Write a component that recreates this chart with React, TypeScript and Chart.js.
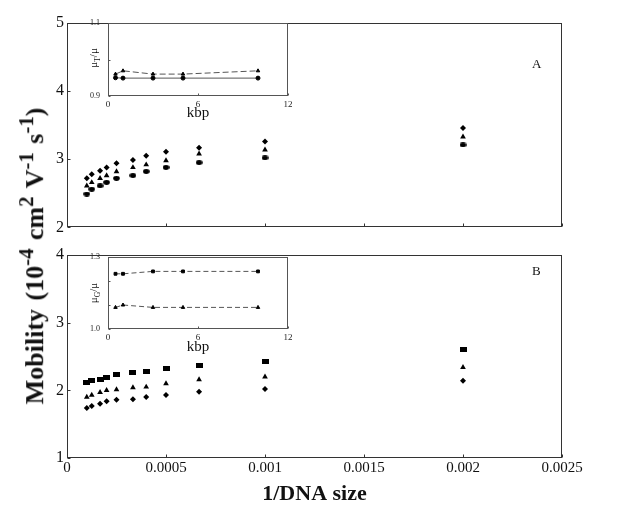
import React, { useEffect, useRef } from "react";
import { Chart, registerables } from "chart.js";
Chart.register(...registerables);

const SERIF = '"Liberation Serif", "Times New Roman", Times, serif';

// ---- main panels: x = 1 / DNA size ----
const dnaInverse = [0.0001, 0.000125, 0.000167, 0.0002, 0.00025, 0.000333, 0.0004, 0.0005, 0.000667, 0.001, 0.002];
const panelADiamonds = [2.72, 2.78, 2.83, 2.88, 2.94, 2.99, 3.05, 3.11, 3.17, 3.26, 3.46];
const panelATriangles = [2.61, 2.66, 2.72, 2.76, 2.82, 2.88, 2.92, 2.98, 3.08, 3.14, 3.33];
const panelACircles = [2.49, 2.56, 2.61, 2.66, 2.72, 2.76, 2.82, 2.88, 2.95, 3.02, 3.21];
const panelBSquares = [2.11, 2.14, 2.16, 2.19, 2.23, 2.26, 2.28, 2.33, 2.37, 2.43, 2.6];
const panelBTriangles = [1.9, 1.93, 1.97, 2.0, 2.01, 2.04, 2.05, 2.1, 2.16, 2.2, 2.34];
const panelBDiamonds = [1.74, 1.77, 1.8, 1.84, 1.86, 1.87, 1.9, 1.93, 1.98, 2.02, 2.14];
const xTicks = [0, 0.0005, 0.001, 0.0015, 0.002, 0.0025];
const xTickLabels = ["0", "0.0005", "0.001", "0.0015", "0.002", "0.0025"];
const panelAYTicks = [2, 3, 4, 5];
const panelBYTicks = [1, 2, 3, 4];

// ---- insets: x = DNA size in kbp ----
const insetKbp = [0.5, 1, 3, 5, 10];
const insetATriangles = [0.96, 0.969, 0.96, 0.96, 0.969];
const insetACircles = [0.95, 0.949, 0.949, 0.949, 0.949];
const insetBSquares = [1.23, 1.23, 1.24, 1.24, 1.24];
const insetBTriangles = [1.09, 1.1, 1.09, 1.09, 1.09];
const insetXTicks = [0, 6, 12];
const insetAYTicks = [0.9, 1.0, 1.1];
const insetAYLabels = ["0.9", "", "1.1"];
const insetBYTicks = [1.0, 1.1, 1.2, 1.3];
const insetBYLabels = ["1.0", "", "", "1.3"];

const framePlugin = {
  id: "frame",
  afterDraw(chart: any) {
    const o = chart.options.plugins.frame;
    if (!o) return;
    const { ctx, chartArea: a } = chart;
    ctx.save();
    ctx.strokeStyle = o.color;
    ctx.lineWidth = 1;
    const l = Math.round(a.left) + 0.5, t = Math.round(a.top) + 0.5;
    const r = Math.round(a.right) - 0.5, b = Math.round(a.bottom) - 0.5;
    ctx.strokeRect(l, t, r - l, b - t);
    const len = o.tick;
    ctx.beginPath();
    chart.scales.x.ticks.forEach((tk: any) => {
      const px = Math.round(chart.scales.x.getPixelForValue(tk.value)) + 0.5;
      ctx.moveTo(px, b);
      ctx.lineTo(px, b - len);
    });
    chart.scales.y.ticks.forEach((tk: any) => {
      const py = Math.round(chart.scales.y.getPixelForValue(tk.value)) + 0.5;
      ctx.moveTo(l, py);
      ctx.lineTo(l + len, py);
    });
    ctx.stroke();
    ctx.restore();
  },
};

function mark(w: number, h: number, draw: (g: CanvasRenderingContext2D, w: number, h: number) => void) {
  const c = document.createElement("canvas");
  c.width = w;
  c.height = h;
  const g = c.getContext("2d")!;
  g.fillStyle = "#000";
  draw(g, w, h);
  return c;
}

function labelFor(values: number[], labels: string[]) {
  return (v: number) => {
    const i = values.findIndex((t) => Math.abs(t - v) < 1e-9);
    return i >= 0 ? labels[i] : "";
  };
}

function setTicks(values: number[]) {
  return (s: any) => {
    s.ticks = values.map((v) => ({ value: v }));
  };
}

function mainConfig(kind: "A" | "B") {
  const ellipse = mark(7, 5, (g, w, h) => {
    g.beginPath();
    g.ellipse(w / 2, h / 2, 3.3, 2.4, 0, 0, Math.PI * 2);
    g.fill();
  });
  const square = mark(7, 5, (g) => g.fillRect(0, 0, 7, 5));
  const series =
    kind === "A"
      ? [
          { v: panelADiamonds, s: "rectRot", r: 3 },
          { v: panelATriangles, s: "triangle", r: 3.3 },
          { v: panelACircles, s: ellipse, r: 3 },
        ]
      : [
          { v: panelBSquares, s: square, r: 3 },
          { v: panelBTriangles, s: "triangle", r: 3.3 },
          { v: panelBDiamonds, s: "rectRot", r: 3 },
        ];
  const yTicks = kind === "A" ? panelAYTicks : panelBYTicks;
  const isB = kind === "B";
  return {
    type: "scatter",
    data: {
      datasets: series.map((s) => ({
        data: dnaInverse.map((x, i) => ({ x, y: s.v[i] })),
        pointStyle: s.s,
        pointRadius: s.r,
        backgroundColor: "#000",
        borderColor: "#000",
        borderWidth: 0,
        showLine: false,
      })),
    },
    options: {
      animation: false,
      responsive: false,
      devicePixelRatio: 1,
      layout: { autoPadding: false, padding: { top: isB ? 15 : 23, right: 66, left: 0, bottom: 0 } },
      plugins: { legend: { display: false }, tooltip: { enabled: false }, frame: { color: "#333", tick: 3 } },
      scales: {
        x: {
          type: "linear",
          min: 0,
          max: 0.0025,
          afterBuildTicks: setTicks(xTicks),
          afterFit: (s: any) => {
            s.height = isB ? 51 : 12;
          },
          grid: { display: false, drawTicks: false },
          border: { display: false },
          ticks: {
            display: isB,
            autoSkip: false,
            maxRotation: 0,
            padding: 1,
            color: "#111",
            font: { family: SERIF, size: 15 },
            callback: labelFor(xTicks, xTickLabels),
          },
          title: {
            display: isB,
            text: "1/DNA size",
            color: "#111",
            font: { family: SERIF, size: 22, weight: "bold" },
            padding: { top: 0, bottom: 1 },
          },
        },
        y: {
          type: "linear",
          min: yTicks[0],
          max: yTicks[yTicks.length - 1],
          afterBuildTicks: setTicks(yTicks),
          afterFit: (s: any) => {
            s.width = 67;
          },
          grid: { display: false, drawTicks: false },
          border: { display: false },
          ticks: {
            padding: 3,
            color: "#111",
            font: { family: SERIF, size: 16 },
            callback: (v: number) => String(v),
          },
        },
      },
    },
    plugins: [framePlugin],
  };
}

function insetConfig(kind: "A" | "B") {
  const isA = kind === "A";
  const sets = isA
    ? [
        { v: insetATriangles, s: "triangle", dash: [6, 3] },
        { v: insetACircles, s: "circle", dash: [] },
      ]
    : [
        { v: insetBSquares, s: "rect", dash: [5, 3] },
        { v: insetBTriangles, s: "triangle", dash: [5, 3] },
      ];
  const yT = isA ? insetAYTicks : insetBYTicks;
  const yL = isA ? insetAYLabels : insetBYLabels;
  return {
    type: "scatter",
    data: {
      datasets: sets.map((s) => ({
        data: insetKbp.map((x, i) => ({ x, y: s.v[i] })),
        pointStyle: s.s,
        pointRadius: 2,
        backgroundColor: "#000",
        borderColor: "#555",
        pointBorderColor: "#000",
        borderWidth: 1,
        borderDash: s.dash,
        showLine: true,
      })),
    },
    options: {
      animation: false,
      responsive: false,
      devicePixelRatio: 1,
      layout: { autoPadding: false, padding: { top: isA ? 15 : 13, right: 12, left: 0, bottom: 0 } },
      plugins: { legend: { display: false }, tooltip: { enabled: false }, frame: { color: "#555", tick: 2 } },
      scales: {
        x: {
          type: "linear",
          min: 0,
          max: 12,
          afterBuildTicks: setTicks(insetXTicks),
          afterFit: (s: any) => {
            s.height = isA ? 30 : 33;
          },
          grid: { display: false, drawTicks: false },
          border: { display: false },
          ticks: {
            autoSkip: false,
            maxRotation: 0,
            padding: 3,
            color: "#222",
            font: { family: SERIF, size: 9 },
            callback: (v: number) => String(v),
          },
          title: {
            display: true,
            text: "kbp",
            color: "#111",
            font: { family: SERIF, size: 15 },
            padding: { top: 0, bottom: isA ? 4 : 6 },
          },
        },
        y: {
          type: "linear",
          min: yT[0],
          max: yT[yT.length - 1],
          afterBuildTicks: setTicks(yT),
          afterFit: (s: any) => {
            s.width = 28;
          },
          grid: { display: false, drawTicks: false },
          border: { display: false },
          ticks: {
            padding: 8,
            color: "#222",
            font: { family: SERIF, size: 8 },
            callback: labelFor(yT, yL),
          },
        },
      },
    },
    plugins: [framePlugin],
  };
}

function ChartCanvas(props: { left: number; top: number; width: number; height: number; make: () => any }) {
  const ref = useRef<HTMLCanvasElement>(null);
  useEffect(() => {
    const chart = new Chart(ref.current as HTMLCanvasElement, props.make());
    return () => chart.destroy();
  }, []);
  return (
    <canvas
      ref={ref}
      width={props.width}
      height={props.height}
      style={{ position: "absolute", left: props.left, top: props.top, width: props.width, height: props.height }}
    />
  );
}

const abs = (left: number, top: number, extra: any = {}) => ({
  position: "absolute" as const,
  left,
  top,
  fontFamily: SERIF,
  color: "#111",
  whiteSpace: "nowrap" as const,
  lineHeight: 1,
  ...extra,
});

const sup = { fontSize: "0.8em" };

export default function App() {
  return (
    <div style={{ position: "absolute", left: 0, top: 0, width: 628, height: 509, background: "#fff", overflow: "hidden" }}>
      <ChartCanvas left={0} top={0} width={628} height={240} make={() => mainConfig("A")} />
      <ChartCanvas left={0} top={240} width={628} height={269} make={() => mainConfig("B")} />
      <ChartCanvas left={80} top={8} width={220} height={118} make={() => insetConfig("A")} />
      <ChartCanvas left={80} top={244} width={220} height={118} make={() => insetConfig("B")} />
      <div
        style={abs(32, 256, {
          transform: "translate(-50%,-50%) rotate(-90deg)",
          fontSize: 26,
          fontWeight: "bold",
          wordSpacing: 2,
        })}
      >
        Mobility (10<sup style={sup}>-4</sup> cm<sup style={sup}>2</sup> V<sup style={sup}>-1</sup> s
        <sup style={sup}>-1</sup>)
      </div>
      <div style={abs(95, 58, { transform: "translate(-50%,-50%) rotate(-90deg)", fontSize: 11 })}>
        μ<sub style={{ fontSize: "0.7em" }}>T</sub>/μ
      </div>
      <div style={abs(95, 293, { transform: "translate(-50%,-50%) rotate(-90deg)", fontSize: 11 })}>
        μ<sub style={{ fontSize: "0.7em" }}>G</sub>/μ
      </div>
      <div style={abs(532, 57, { fontSize: 13 })}>A</div>
      <div style={abs(532, 264, { fontSize: 13 })}>B</div>
    </div>
  );
}
